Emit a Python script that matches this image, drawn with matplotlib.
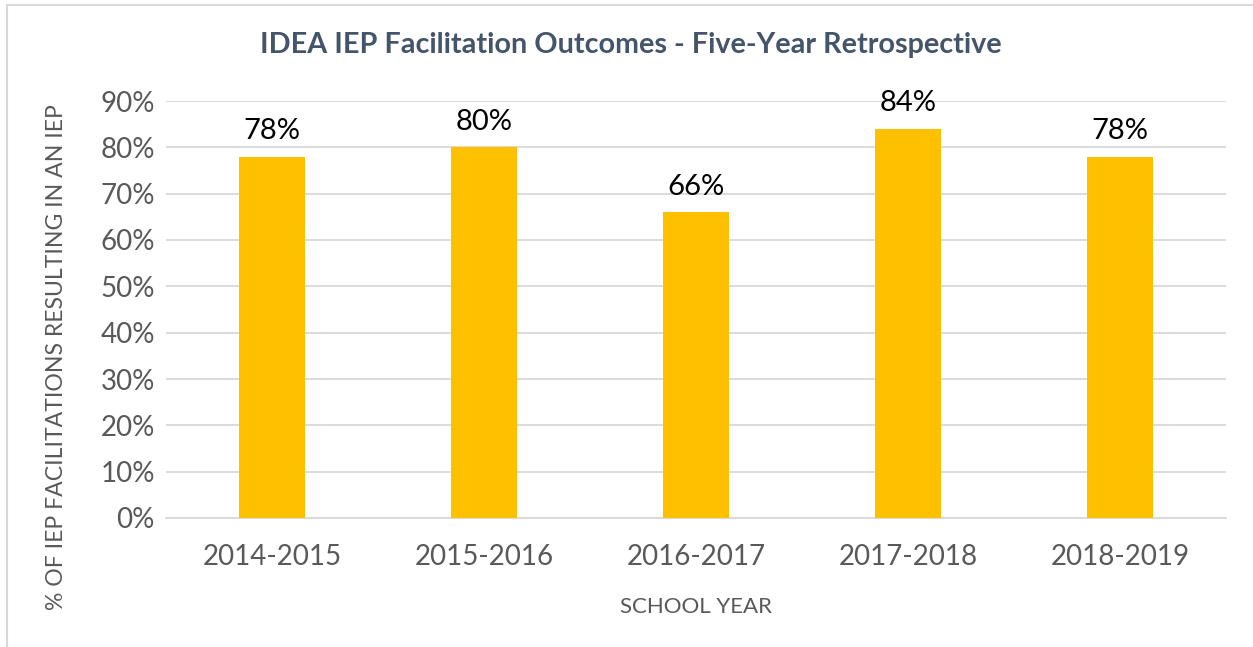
import matplotlib.pyplot as plt
from matplotlib.patches import Rectangle

years = ['2014-2015', '2015-2016', '2016-2017', '2017-2018', '2018-2019']
pct = [78, 80, 66, 84, 78]
yticks = [0, 10, 20, 30, 40, 50, 60, 70, 80, 90]

plt.rcParams['font.family'] = ['Lato', 'DejaVu Sans']

fig = plt.figure(figsize=(12.53, 6.47), dpi=100)
# chart border (right and bottom edges fall off the picture)
fig.patches.append(Rectangle((7/1253, -0.05), 1.0, 1.05 - 5/647, transform=fig.transFigure,
                             fill=False, edgecolor='#d9d9d9', linewidth=1.5))

ax = fig.add_axes([166/1253, 1 - 518/647, 1060/1253, 417/647])
x = range(len(years))
bars = ax.bar(x, pct, width=0.316, color='#FFC000', zorder=3)

for b, v in zip(bars, pct):
    ax.annotate(f'{v}%', (b.get_x() + b.get_width()/2, v), xytext=(0, 9),
                textcoords='offset points', ha='center', va='bottom',
                fontsize=21, color='black')

ax.set_xlim(-0.5, len(years) - 0.5)
ax.set_ylim(0, 90)
ax.set_yticks(yticks)
ax.set_yticklabels([f'{t}%' for t in yticks])
ax.set_xticks(list(x))
ax.set_xticklabels(years)
ax.grid(axis='y', color='#d9d9d9', linewidth=1.3, zorder=0)
for s in ['top', 'right', 'left']:
    ax.spines[s].set_visible(False)
ax.spines['bottom'].set_color('#d9d9d9')
ax.spines['bottom'].set_linewidth(1.3)
ax.tick_params(axis='both', length=0, labelsize=20, labelcolor='#595959')
ax.tick_params(axis='x', pad=19)
ax.tick_params(axis='y', pad=8)

ax.set_xlabel('SCHOOL YEAR', fontsize=16, color='#595959', labelpad=19)
fig.text(57/1253, 1 - 357/647, '% OF IEP FACILITATIONS RESULTING IN AN IEP',
         rotation=90, ha='center', va='center', fontsize=16.6, color='#595959')

fig.text(631/1253, 1 - 45/647, 'IDEA IEP Facilitation Outcomes - Five-Year Retrospective',
         ha='center', va='center', fontsize=20.7, fontweight='bold', color='#44546A')

fig.savefig('out.png', dpi=100)
